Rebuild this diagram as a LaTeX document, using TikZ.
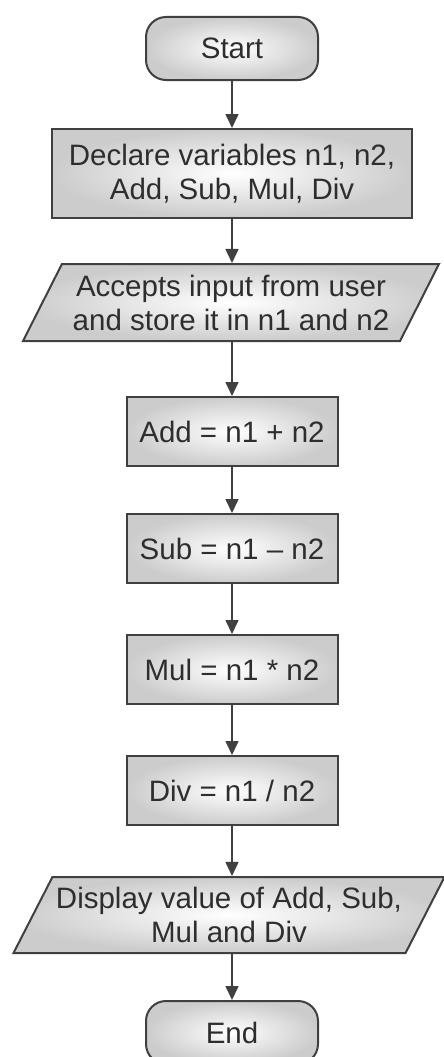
\documentclass[tikz,border=0pt]{standalone}
\usepackage{fontspec}
\setmainfont{Liberation Sans}
\usepackage{tikz}
\usetikzlibrary{shapes.geometric, arrows.meta}
\definecolor{edge}{gray}{0.25}
\definecolor{ink}{gray}{0.18}
\definecolor{shade}{gray}{0.8}

\begin{document}
\begin{tikzpicture}[x=1pt, y=-1pt,
box/.style={draw=edge, line width=2pt, inner color=white, outer color=shade, text=ink, font=\fontsize{29.5}{34}\selectfont, align=center},
term/.style={box, rounded corners=20pt, minimum width=172pt, minimum height=63pt},
proc/.style={box, minimum width=211pt, minimum height=69pt},
io/.style={box, trapezium, trapezium left angle=58, trapezium right angle=122, trapezium stretches body, minimum width=416pt, minimum height=77pt},
arr/.style={draw=edge, line width=1.6pt, -{Triangle[length=14pt, width=13pt]}}]
\useasboundingbox (0,0) rectangle (444,1057);
\node[term] (start) at (232,48.5) {Start};
\node[box, minimum width=360pt, minimum height=89pt] (decl) at (232,173.5) {Declare variables n1, n2,\\Add, Sub, Mul, Div};
\node[io] (input) at (231,302.5) {Accepts input from user\\and store it in n1 and n2};
\node[proc] (add) at (232,431.5) {Add = n1 + n2};
\node[proc] (sub) at (232,548.5) {Sub = n1 -- n2};
\node[proc] (mul) at (232,669.5) {Mul = n1 * n2};
\node[proc] (div) at (232,790.5) {Div = n1 / n2};
\node[io, minimum width=431pt, minimum height=76pt] (disp) at (229,915) {Display value of Add, Sub,\\Mul and Div};
\node[term] (end) at (232,1032.5) {End};
\foreach \a/\b in {start/decl, decl/input, input/add, add/sub, sub/mul, mul/div, div/disp, disp/end}{
\draw[arr] (\a.south -| start) -- (\b.north -| start);
}
\end{tikzpicture}
\end{document}
